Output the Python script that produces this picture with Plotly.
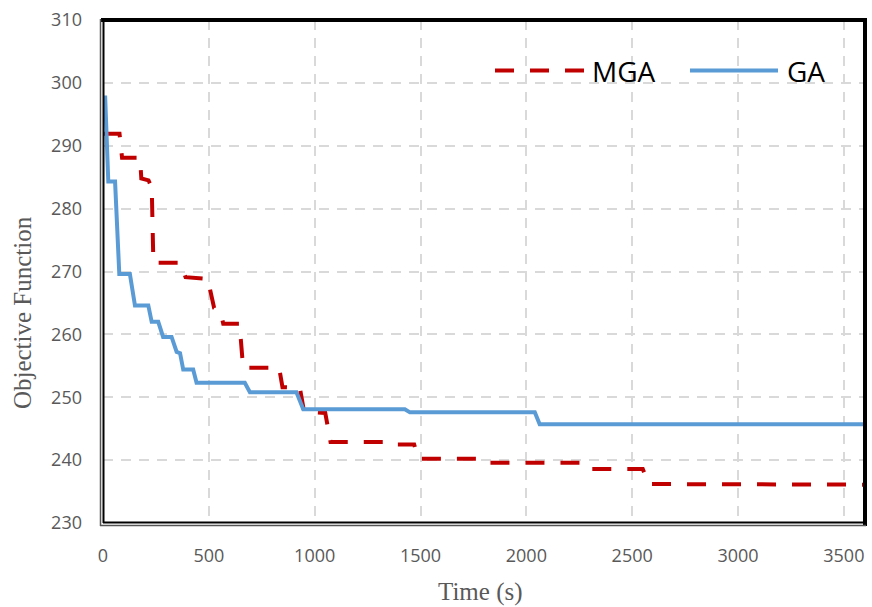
import plotly.graph_objects as go

# ---------------- data ----------------
ga_time = [10, 25, 57, 77, 127, 151, 214, 230, 261, 284, 324, 348, 364, 379, 426, 442,
           670, 694, 914, 946, 1426, 1450, 2040, 2063, 3600]
ga_value = [298.0, 284.3, 284.3, 269.6, 269.6, 264.6, 264.6, 262.0, 262.0, 259.6, 259.6,
            257.2, 257.0, 254.4, 254.4, 252.3, 252.3, 250.8, 250.8, 248.1, 248.1, 247.6,
            247.6, 245.7, 245.7]

mga_time = [5, 78, 90, 175, 181, 215, 224, 230, 238, 364, 390, 495, 525, 556, 568, 645,
            662, 832, 848, 930, 950, 1050, 1075, 1340, 1355, 1470, 1489, 1790, 1810, 2270,
            2292, 2550, 2578, 3600]
mga_value = [291.9, 291.9, 288.1, 288.1, 284.8, 284.5, 283.8, 283.8, 271.4, 271.4, 269.1,
             268.8, 264.2, 263.5, 261.7, 261.7, 254.7, 254.7, 251.6, 251.5, 247.7, 247.5,
             242.9, 242.9, 242.5, 242.5, 240.2, 240.2, 239.6, 239.6, 238.6, 238.6, 236.2,
             236.1]

x_ticks = [0, 500, 1000, 1500, 2000, 2500, 3000, 3500]
x_tick_labels = ["0", "500", "1000", "1500", "2000", "2500", "3000", "3500"]
y_ticks = [230, 240, 250, 260, 270, 280, 290, 300, 310]
series_names = ["MGA", "GA"]
x_title = "Time (s)"
y_title = "Objective Function"

RED = "#c00000"
BLUE = "#5b9bd5"
GRID = "#d9d9d9"
TXT = "#595959"

W, H = 872, 607
L, R, T, B = 103, 865, 15, 523  # plot area in pixels


def px2x(px):
    return (px - L) / (R - L)


def py2y(py):
    return (B - py) / (B - T)


fig = go.Figure()
fig.add_trace(go.Scatter(x=mga_time, y=mga_value, mode="lines", name=series_names[0],
                         line=dict(color=RED, width=4, dash="19px,16px"),
                         showlegend=False))
fig.add_trace(go.Scatter(x=ga_time, y=ga_value, mode="lines", name=series_names[1],
                         line=dict(color=BLUE, width=4),
                         showlegend=False))

shapes = []
# plot-area border: thick black top/right, double line left/bottom
shapes.append(dict(type="line", xref="paper", yref="paper", x0=px2x(101), x1=px2x(867),
                   y0=py2y(15), y1=py2y(15), line=dict(color="black", width=4)))
shapes.append(dict(type="line", xref="paper", yref="paper", x0=px2x(865), x1=px2x(865),
                   y0=py2y(13), y1=py2y(526), line=dict(color="black", width=4)))
shapes.append(dict(type="line", xref="paper", yref="paper", x0=px2x(100.5), x1=px2x(100.5),
                   y0=py2y(14), y1=py2y(526), line=dict(color="#555555", width=1.5)))
shapes.append(dict(type="line", xref="paper", yref="paper", x0=px2x(103.5), x1=px2x(103.5),
                   y0=py2y(15), y1=py2y(523), line=dict(color="black", width=2)))
shapes.append(dict(type="line", xref="paper", yref="paper", x0=px2x(103), x1=px2x(866),
                   y0=py2y(522.5), y1=py2y(522.5), line=dict(color="black", width=2)))
shapes.append(dict(type="line", xref="paper", yref="paper", x0=px2x(100), x1=px2x(866),
                   y0=py2y(525.5), y1=py2y(525.5), line=dict(color="#555555", width=1.5)))

# legend samples
shapes.append(dict(type="line", xref="paper", yref="paper", x0=px2x(495), x1=px2x(584),
                   y0=py2y(66), y1=py2y(66), line=dict(color=RED, width=4, dash="19px,16px")))
shapes.append(dict(type="line", xref="paper", yref="paper", x0=px2x(690), x1=px2x(778),
                   y0=py2y(66), y1=py2y(66), line=dict(color=BLUE, width=4)))

annotations = [
    dict(text=series_names[0], xref="paper", yref="paper", x=px2x(590), y=py2y(67),
         xanchor="left", yanchor="middle", showarrow=False,
         font=dict(family="Open Sans", size=28, color="black")),
    dict(text=series_names[1], xref="paper", yref="paper", x=px2x(785), y=py2y(67),
         xanchor="left", yanchor="middle", showarrow=False,
         font=dict(family="Open Sans", size=28, color="black")),
    dict(text=x_title, xref="paper", yref="paper", x=px2x(480), y=py2y(593),
         xanchor="center", yanchor="middle", showarrow=False,
         font=dict(family="Liberation Serif", size=25, color=TXT)),
    dict(text=y_title, xref="paper", yref="paper", x=px2x(22), y=py2y(311),
         xanchor="center", yanchor="middle", showarrow=False, textangle=-90,
         font=dict(family="Liberation Serif", size=25, color=TXT)),
]

fig.update_layout(
    width=W, height=H,
    margin=dict(l=L, r=W - R, t=T, b=H - B, pad=0),
    paper_bgcolor="white", plot_bgcolor="white",
    shapes=shapes, annotations=annotations,
    showlegend=False,
    xaxis=dict(range=[0, 3600], tickvals=x_ticks, ticktext=x_tick_labels,
               showgrid=True, gridcolor=GRID, gridwidth=2, griddash="10px,8px",
               zeroline=False, showline=False, ticks="",
               ticklabelstandoff=20,
               tickfont=dict(family="Open Sans", size=18, color=TXT)),
    yaxis=dict(range=[230, 310], tickvals=y_ticks,
               showgrid=True, gridcolor=GRID, gridwidth=2, griddash="10px,8px",
               zeroline=False, showline=False, ticks="",
               ticklabelstandoff=20,
               tickfont=dict(family="Open Sans", size=18, color=TXT)),
)

fig.write_html(
    "out.html",
    config={"displayModeBar": False, "responsive": False},
    post_script="document.body.style.margin='0';document.body.style.padding='0';"
                "document.body.style.overflow='hidden';",
)
